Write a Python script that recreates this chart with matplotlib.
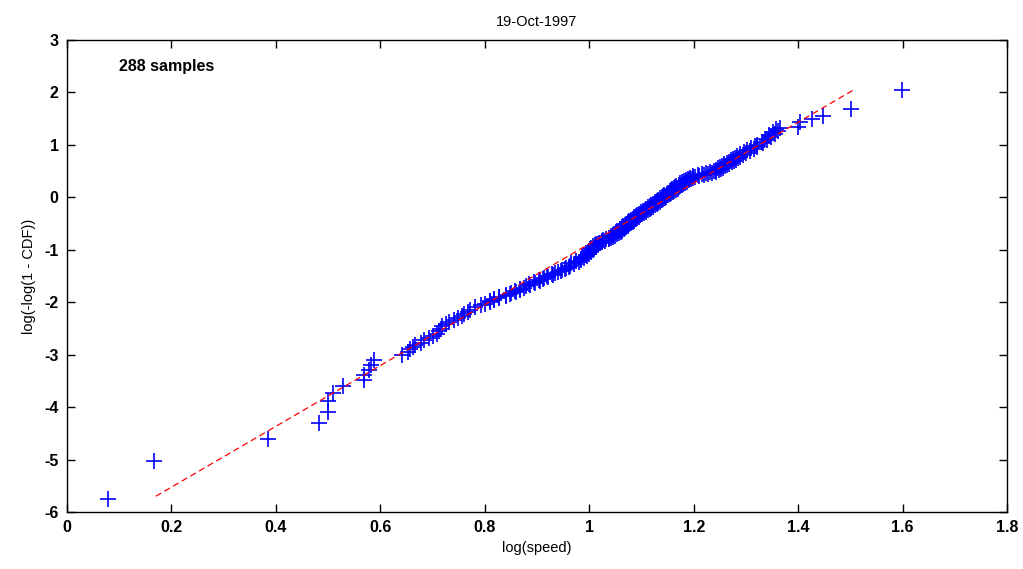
import matplotlib
matplotlib.use("Agg")
import matplotlib.pyplot as plt

# sorted samples of the Weibull plot
# low tail
x_low = [0.078, 0.166, 0.385, 0.482, 0.500, 0.500, 0.509, 0.529, 0.569, 0.569, 0.578, 0.583, 0.587]
y_low = [-5.76, -5.02, -4.60, -4.30, -4.09, -3.88, -3.73, -3.59, -3.48, -3.38, -3.29, -3.20, -3.11]

x_a = [0.642, 0.652, 0.657, 0.663, 0.666, 0.678, 0.683, 0.694, 0.700, 0.708, 0.712, 0.717,
       0.719, 0.726, 0.731, 0.741, 0.748, 0.757, 0.761, 0.768, 0.771, 0.781, 0.792]
y_a = [-3.00, -2.95, -2.90, -2.86, -2.82, -2.78, -2.73, -2.69, -2.65, -2.60, -2.55, -2.51,
       -2.46, -2.42, -2.38, -2.34, -2.30, -2.26, -2.22, -2.18, -2.14, -2.10, -2.06]

x_b = [0.801, 0.810, 0.810, 0.818, 0.818, 0.828, 0.828, 0.840, 0.840, 0.848, 0.851, 0.859,
       0.857, 0.868, 0.868, 0.875, 0.879, 0.886, 0.884, 0.897, 0.895, 0.905, 0.904, 0.911,
       0.914, 0.921, 0.919, 0.930, 0.928, 0.935, 0.940, 0.945, 0.947, 0.953, 0.955, 0.961,
       0.964, 0.970, 0.966, 0.980, 0.975, 0.984, 0.984, 0.990, 0.987, 0.995, 0.993, 0.999,
       0.998, 1.003, 1.002, 1.007]
y_b = [-2.03, -2.00, -1.98, -1.96, -1.94, -1.92, -1.90, -1.88, -1.86, -1.84, -1.82, -1.80,
       -1.78, -1.76, -1.74, -1.72, -1.70, -1.68, -1.66, -1.64, -1.62, -1.60, -1.58, -1.56,
       -1.54, -1.52, -1.50, -1.48, -1.46, -1.44, -1.42, -1.40, -1.38, -1.36, -1.34, -1.32,
       -1.30, -1.28, -1.26, -1.24, -1.22, -1.20, -1.18, -1.16, -1.14, -1.12, -1.10, -1.08,
       -1.06, -1.04, -1.02, -1.00]

x_c = [1.001, 1.010, 1.003, 1.013, 1.008, 1.012, 1.011, 1.016,
       1.013, 1.021, 1.018, 1.024, 1.024, 1.031, 1.027, 1.037,
       1.033, 1.042, 1.037, 1.046, 1.041, 1.050, 1.045, 1.054,
       1.047, 1.057, 1.052, 1.060, 1.054, 1.063, 1.058, 1.066,
       1.059, 1.068, 1.063, 1.071, 1.065, 1.074, 1.068, 1.077,
       1.071, 1.080, 1.074, 1.083, 1.077, 1.086, 1.080, 1.089,
       1.083, 1.092, 1.086, 1.095, 1.089, 1.098, 1.092, 1.101,
       1.095, 1.105, 1.099, 1.108, 1.102, 1.112, 1.106, 1.116,
       1.109, 1.119, 1.113, 1.122, 1.116, 1.126, 1.119, 1.129,
       1.123, 1.132, 1.126, 1.136, 1.129, 1.139, 1.132, 1.142, 1.135, 1.145]
y_c = [-0.985, -0.972, -0.960, -0.948, -0.935, -0.922, -0.910, -0.898,
       -0.886, -0.874, -0.862, -0.850, -0.838, -0.826, -0.814, -0.802,
       -0.790, -0.778, -0.766, -0.754, -0.742, -0.730, -0.718, -0.706,
       -0.694, -0.682, -0.670, -0.658, -0.646, -0.634, -0.622, -0.610,
       -0.598, -0.586, -0.574, -0.562, -0.550, -0.538, -0.526, -0.514,
       -0.502, -0.490, -0.478, -0.466, -0.454, -0.442, -0.430, -0.418,
       -0.406, -0.394, -0.382, -0.370, -0.358, -0.346, -0.334, -0.322,
       -0.310, -0.298, -0.286, -0.274, -0.262, -0.250, -0.238, -0.226,
       -0.214, -0.202, -0.190, -0.178, -0.166, -0.154, -0.142, -0.130,
       -0.118, -0.106, -0.094, -0.082, -0.070, -0.058, -0.046, -0.034, -0.022, -0.010]

x_d = [1.139, 1.147, 1.141, 1.151, 1.144, 1.154, 1.148, 1.157, 1.151, 1.160, 1.154, 1.163,
       1.156, 1.166, 1.159, 1.169, 1.162, 1.171, 1.164, 1.174, 1.167, 1.177, 1.171, 1.180,
       1.174, 1.184, 1.178, 1.188, 1.182, 1.191, 1.185, 1.195, 1.189, 1.199, 1.193, 1.203]
y_d = [0.002, 0.013, 0.024, 0.035, 0.046, 0.057, 0.068, 0.079, 0.090, 0.101, 0.112, 0.123,
       0.134, 0.145, 0.156, 0.167, 0.178, 0.189, 0.200, 0.211, 0.222, 0.233, 0.244, 0.255,
       0.266, 0.277, 0.288, 0.299, 0.310, 0.321, 0.332, 0.343, 0.354, 0.365, 0.376, 0.387]

x_e = [1.199, 1.210, 1.208, 1.219, 1.216, 1.227, 1.224, 1.235, 1.232, 1.243, 1.238,
       1.248, 1.242, 1.252, 1.246, 1.256, 1.250, 1.260, 1.254, 1.264, 1.258, 1.268,
       1.263, 1.273, 1.267, 1.277, 1.271, 1.281, 1.275, 1.285, 1.279, 1.289, 1.283,
       1.294, 1.289, 1.301, 1.296, 1.308, 1.303, 1.315, 1.310, 1.322, 1.317]
y_e = [0.398, 0.410, 0.420, 0.430, 0.440, 0.450, 0.460, 0.470, 0.480, 0.490, 0.500,
       0.512, 0.525, 0.538, 0.551, 0.564, 0.577, 0.590, 0.603, 0.616, 0.629, 0.642,
       0.655, 0.668, 0.681, 0.694, 0.707, 0.720, 0.733, 0.746, 0.759, 0.772, 0.785,
       0.800, 0.820, 0.840, 0.860, 0.880, 0.900, 0.920, 0.940, 0.960, 0.980]

x_f = [1.322, 1.333, 1.330, 1.341, 1.337, 1.348, 1.345, 1.355, 1.351, 1.361, 1.358, 1.366]
y_f = [1.00, 1.03, 1.06, 1.09, 1.12, 1.15, 1.18, 1.21, 1.24, 1.27, 1.30, 1.32]

# high tail
x_high = [1.400, 1.404, 1.426, 1.447, 1.501, 1.598]
y_high = [1.34, 1.44, 1.50, 1.56, 1.69, 2.04]

# fitted line end points
fit_x = [0.17, 1.51]
fit_y = [-5.70, 2.07]

xs = x_low + x_a + x_b + x_c + x_d + x_e + x_f + x_high
ys = y_low + y_a + y_b + y_c + y_d + y_e + y_f + y_high

plt.rcParams['font.family'] = ['Liberation Sans', 'DejaVu Sans']
plt.rcParams['axes.unicode_minus'] = False

fig = plt.figure(figsize=(10.23, 5.69), dpi=100)
ax = fig.add_axes([0.0655, 0.1002, 0.9189, 0.8295])

ax.plot(xs, ys, linestyle='none', marker='+', color='#0000ff', markersize=11, markeredgewidth=1.2)
ax.plot(fit_x, fit_y, linestyle='--', color='red', linewidth=0.9, dashes=(5, 3))

ax.set_xlim(0, 1.8)
ax.set_ylim(-6, 3)
ax.set_xticks([0, 0.2, 0.4, 0.6, 0.8, 1, 1.2, 1.4, 1.6, 1.8])
ax.set_xticklabels(['0', '0.2', '0.4', '0.6', '0.8', '1', '1.2', '1.4', '1.6', '1.8'])
ax.set_yticks(range(-6, 4))
ax.tick_params(direction='in', top=True, right=True, length=6, width=1, labelsize=11.5, pad=6)
for lab in ax.get_xticklabels() + ax.get_yticklabels():
    lab.set_fontweight('bold')
for s in ax.spines.values():
    s.set_linewidth(1)

ax.set_title('19-Oct-1997', fontsize=10.5, pad=10)
ax.set_xlabel('log(speed)', fontsize=10.5, labelpad=4)
ax.set_ylabel('log(-log(1 - CDF))', fontsize=10.5, labelpad=6)
ax.text(0.1, 2.5, '288 samples', fontsize=11.5, fontweight='bold', va='center')

fig.savefig('out.png', dpi=100)
